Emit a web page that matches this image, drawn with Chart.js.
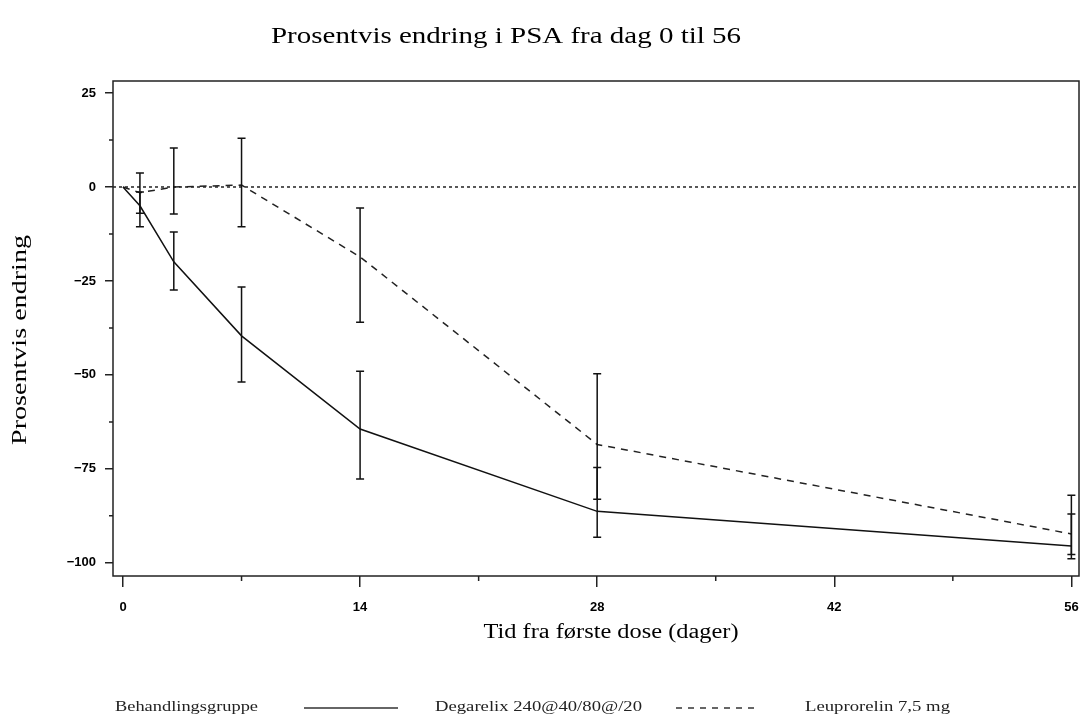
<!doctype html>
<html lang="no">
<head>
<meta charset="utf-8">
<title>Prosentvis endring i PSA</title>
<style>
  * { margin: 0; padding: 0; }
  body { background: #fff; }
  #wrap { width: 1083px; height: 720px; }
</style>
</head>
<body>
<div id="wrap"><canvas id="myChart" width="1083" height="720"></canvas></div>
<script src="https://cdn.jsdelivr.net/npm/chart.js"></script>
<script>
// data
const days = [0, 1, 3, 7, 14, 28, 56];

const degMean = [0, -5, -19.9, -39.6, -64.4, -86.3, -95.5];
const degLow  = [null, -10.6, -27.4, -51.9, -77.7, -93.2, -98.9];
const degHigh = [null, -1.3, -12, -26.6, -49, -74.6, -87];

const leuMean = [0, -1.5, 0, 0.5, -18.6, -68.5, -92.3];
const leuLow  = [null, -7, -7.2, -10.6, -36, -83.1, -97.8];
const leuHigh = [null, 3.7, 10.4, 13, -5.6, -49.7, -82];

const xTicks = [0, 14, 28, 42, 56];
const xMinor = [7, 21, 35, 49];
const yTicks = [25, 0, -25, -50, -75, -100];
const yMinor = [12.5, -12.5, -37.5, -62.5, -87.5];

const X_MIN = -0.59, X_MAX = 56.45;
const Y_MIN = -103.5, Y_MAX = 28.2;

const toPts = (ys) => days.map((d, i) => ({ x: d, y: ys[i] }));

// draw text squeezed/stretched to a given width
function fitText(ctx, text, x, y, w, align) {
  const m = ctx.measureText(text).width;
  ctx.save();
  ctx.textAlign = align || 'center';
  ctx.translate(x, y);
  ctx.scale(w / m, 1);
  ctx.fillText(text, 0, 0);
  ctx.restore();
}

// error bars
const errorBars = {
  id: 'errorBars',
  afterDatasetsDraw(chart) {
    const { ctx, scales: { x, y } } = chart;
    ctx.save();
    ctx.strokeStyle = '#111';
    ctx.lineWidth = 1.5;
    chart.data.datasets.forEach(ds => {
      if (!ds.low) return;
      days.forEach((d, i) => {
        if (ds.low[i] == null) return;
        const px = x.getPixelForValue(d);
        const y1 = y.getPixelForValue(ds.low[i]);
        const y2 = y.getPixelForValue(ds.high[i]);
        ctx.beginPath();
        ctx.moveTo(px, y1); ctx.lineTo(px, y2);
        ctx.moveTo(px - 4, y1); ctx.lineTo(px + 4, y1);
        ctx.moveTo(px - 4, y2); ctx.lineTo(px + 4, y2);
        ctx.stroke();
      });
    });
    ctx.restore();
  }
};

// frame, minor ticks, titles, legend
const decor = {
  id: 'decor',
  afterDraw(chart) {
    const { ctx, chartArea: { top, right, bottom, left }, scales: { x, y } } = chart;
    ctx.save();
    ctx.strokeStyle = '#222';
    ctx.lineWidth = 1.5;
    ctx.strokeRect(left, top, right - left, bottom - top);

    ctx.beginPath();
    yMinor.forEach(v => {
      const py = y.getPixelForValue(v);
      ctx.moveTo(left, py); ctx.lineTo(left - 4, py);
    });
    xMinor.forEach(v => {
      const px = x.getPixelForValue(v);
      ctx.moveTo(px, bottom); ctx.lineTo(px, bottom + 5);
    });
    ctx.stroke();

    ctx.fillStyle = '#000';
    ctx.textBaseline = 'middle';
    ctx.font = '23px "Liberation Serif"';
    fitText(ctx, 'Prosentvis endring i PSA fra dag 0 til 56', 506, 37, 470);

    ctx.font = '20px "Liberation Serif"';
    fitText(ctx, 'Tid fra første dose (dager)', 611, 633, 255);

    ctx.save();
    ctx.translate(21, 340);
    ctx.rotate(-Math.PI / 2);
    fitText(ctx, 'Prosentvis endring', 0, 0, 210);
    ctx.restore();

    // legend
    ctx.font = '15px "Liberation Serif"';
    ctx.fillStyle = '#222';
    fitText(ctx, 'Behandlingsgruppe', 115, 707, 143, 'left');
    fitText(ctx, 'Degarelix 240@40/80@/20', 435, 707, 207, 'left');
    fitText(ctx, 'Leuprorelin 7,5 mg', 805, 707, 145, 'left');
    ctx.strokeStyle = '#666';
    ctx.lineWidth = 2;
    ctx.beginPath();
    ctx.moveTo(304, 708); ctx.lineTo(398, 708);
    ctx.stroke();
    ctx.setLineDash([6, 6]);
    ctx.beginPath();
    ctx.moveTo(676, 708); ctx.lineTo(758, 708);
    ctx.stroke();
    ctx.restore();
  }
};

const data = {
  datasets: [{
    label: 'Degarelix 240@40/80@/20',
    data: toPts(degMean),
    low: degLow,
    high: degHigh,
    borderColor: '#111',
    borderWidth: 1.5,
    pointRadius: 0,
    tension: 0
  },
  {
    label: 'Leuprorelin 7,5 mg',
    data: toPts(leuMean),
    low: leuLow,
    high: leuHigh,
    borderColor: '#222',
    borderWidth: 1.5,
    borderDash: [7, 6],
    pointRadius: 0,
    tension: 0
  },
  {
    label: 'ref',
    data: [{ x: X_MIN, y: 0 }, { x: X_MAX, y: 0 }],
    borderColor: '#222',
    borderWidth: 1.5,
    borderDash: [3, 3],
    pointRadius: 0
  }]
};

const config = {
  type: 'line',
  data,
  options: {
    responsive: false,
    animation: false,
    layout: { padding: { left: 0, top: 81, right: 4, bottom: 99 } },
    plugins: { legend: { display: false }, title: { display: false }, tooltip: { enabled: false } },
    scales: {
      x: {
        type: 'linear',
        min: X_MIN,
        max: X_MAX,
        afterBuildTicks: (s) => { s.ticks = xTicks.map(v => ({ value: v })); },
        afterFit: (s) => { s.height = 45; s.paddingLeft = 0; s.paddingRight = 0; },
        border: { display: false },
        grid: { drawOnChartArea: false, tickLength: 11, color: '#222', lineWidth: 1.5 },
        ticks: { color: '#000', padding: 13, maxRotation: 0, font: { family: '"Liberation Sans"', size: 13, weight: 'bold' } }
      },
      y: {
        type: 'linear',
        min: Y_MIN,
        max: Y_MAX,
        afterBuildTicks: (s) => { s.ticks = yTicks.map(v => ({ value: v })); },
        afterFit: (s) => { s.width = 113; s.paddingTop = 0; s.paddingBottom = 0; },
        border: { display: false },
        grid: { drawOnChartArea: false, tickLength: 8, color: '#222', lineWidth: 1.5 },
        ticks: { color: '#000', padding: 9, font: { family: '"Liberation Sans"', size: 13, weight: 'bold' },
          callback: (v) => v === 0 ? '0' : String(v).replace('-', '\u2212') }
      }
    }
  },
  plugins: [errorBars, decor]
};

const myChart = new Chart(document.getElementById('myChart'), config);
</script>
</body>
</html>
